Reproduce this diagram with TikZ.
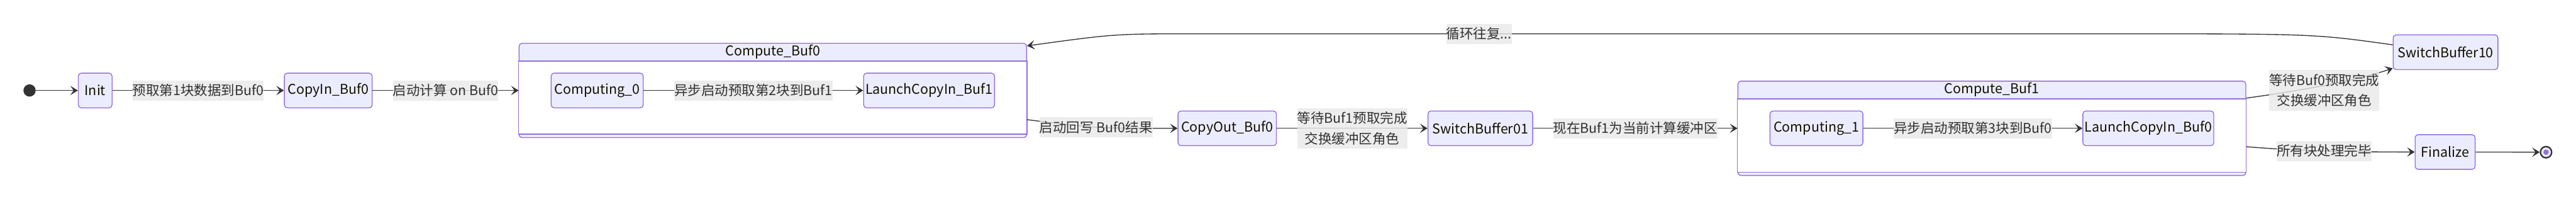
\documentclass[tikz,border=0pt]{standalone}
\usepackage{fontspec}
\setmainfont{Noto Sans CJK SC}
\usepackage{tikz}
\usetikzlibrary{arrows.meta,positioning,fit,backgrounds}
\definecolor{stfill}{HTML}{ECECFF}
\definecolor{stdraw}{HTML}{9370DB}
\definecolor{edgegray}{HTML}{333333}
\definecolor{lblgray}{HTML}{E8E8E8}
\definecolor{sttext}{HTML}{131300}

\begin{document}
\begin{tikzpicture}[
    x=1pt, y=1pt,
    font=\fontsize{16}{24}\selectfont,
    >={Stealth[length=9pt,width=11pt,inset=4pt]},
    st/.style={draw=stdraw, fill=stfill, rounded corners=3.5pt, line width=1pt,
               minimum height=41pt, inner sep=0pt, text=sttext},
    cluster/.style={draw=stdraw, fill=stfill, rounded corners=3.5pt, line width=1pt,
                    inner xsep=37.5pt, inner ysep=34.75pt},
    clbody/.style={draw=stdraw, fill=white, line width=1pt},
    cltitle/.style={text=sttext, inner sep=0pt},
    lbl/.style={fill=lblgray, fill opacity=0.8, text opacity=1, text=edgegray,
                inner sep=0pt, minimum height=24pt, align=center},
    flow/.style={->, draw=edgegray, line width=1pt},
    initst/.style={circle, fill=edgegray, minimum size=14.5pt, inner sep=0pt},
    finalst/.style={circle, draw=edgegray, fill=stfill, line width=1.7pt,
                    minimum size=13.3pt, inner sep=0pt,
                    path picture={\fill[stdraw] (path picture bounding box.center) circle (3.2pt);}},
  ]
  \useasboundingbox (0,0) rectangle (3050.5,-235);

  % --- row 1: init, first copy-in, compute on Buf0 -------------------------------
  \node[initst] (begin) at (35,-107) {};
  \node[st, minimum width=40pt, right=49.75pt of begin] (init) {Init};
  \node[st, minimum width=104pt, right=203pt of init] (copyin0) {CopyIn\_Buf0};
  \node[st, minimum width=109pt, right=211pt of copyin0] (comp0) {Computing\_0};
  \node[st, minimum width=155pt, right=260pt of comp0] (launch1) {LaunchCopyIn\_Buf1};

  % --- row 2: write back, swap, compute on Buf1 ----------------------------------
  \node[st, minimum width=116.5pt] (copyout0) at (1453.25,-151.75) {CopyOut\_Buf0};
  \node[st, minimum width=124pt, right=178.5pt of copyout0] (switch01) {SwitchBuffer01};
  \node[st, minimum width=110pt, right=280pt of switch01] (comp1) {Computing\_1};
  \node[st, minimum width=155pt, right=259.5pt of comp1] (launch0) {LaunchCopyIn\_Buf0};

  % --- right end: swap back or finish ---------------------------------------------
  \node[st, minimum width=124pt] (switch10) at (2896,-61.75) {SwitchBuffer10};
  \node[st, minimum width=71pt] (finalize) at (2895.5,-179.75) {Finalize};
  \node[finalst] (stop) at (3015,-180) {};

  % --- composite states -------------------------------------------------------------
  \begin{scope}[on background layer]
    \node[cluster, fit=(comp0) (launch1)] (buf0) {};
    \draw[clbody] ([yshift=-21.5pt]buf0.north west) rectangle ([yshift=4.5pt]buf0.south east);
    \node[cluster, fit=(comp1) (launch0)] (buf1) {};
    \draw[clbody] ([yshift=-21.5pt]buf1.north west) rectangle ([yshift=4.5pt]buf1.south east);
  \end{scope}
  \node[cltitle] (title0) at ([yshift=-10.75pt]buf0.north) {Compute\_Buf0};
  \node[cltitle] (title1) at ([yshift=-10.75pt]buf1.north) {Compute\_Buf1};

  % --- transitions -------------------------------------------------------------------
  \draw[flow] (begin) -- (init);
  \draw[flow] (init) -- node[lbl] {预取第1块数据到Buf0} (copyin0);
  \draw[flow] (copyin0) -- node[lbl] {启动计算 on Buf0} (buf0);
  \draw[flow] (comp0) -- node[lbl] {异步启动预取第2块到Buf1} (launch1);
  \draw[flow] ([yshift=-34.5pt]buf0.east) .. controls +(80,-10) and +(-100,0) ..
    node[lbl] {启动回写 Buf0结果} (copyout0.west);
  \draw[flow] (copyout0) -- node[lbl, minimum height=48pt] {等待Buf1预取完成\\交换缓冲区角色} (switch01);
  \draw[flow] (switch01) -- node[lbl] {现在Buf1为当前计算缓冲区} (buf1);
  \draw[flow] (comp1) -- node[lbl] {异步启动预取第3块到Buf0} (launch0);
  \draw[flow] ([yshift=-20.5pt]buf1.north east) .. controls +(60,8) and +(-45,-15) ..
    node[lbl, minimum height=48pt, yshift=-6pt] {等待Buf0预取完成\\交换缓冲区角色} ([yshift=2pt]switch10.south west);
  \draw[flow] ([yshift=-21.75pt]buf1.east) .. controls +(60,-5) and +(-80,0) ..
    node[lbl] {所有块处理完毕} (finalize.west);
  \draw[flow] (finalize) -- (stop);
  % loop back to the first compute block
  \draw[flow] ([yshift=8.75pt]switch10.west) .. controls (2740,-40) .. (2500,-40)
    -- node[lbl, pos=0.69] {循环往复...} (1415,-40)
    .. controls (1320,-40) .. ([yshift=-3.5pt]buf0.north east);
\end{tikzpicture}
\end{document}
